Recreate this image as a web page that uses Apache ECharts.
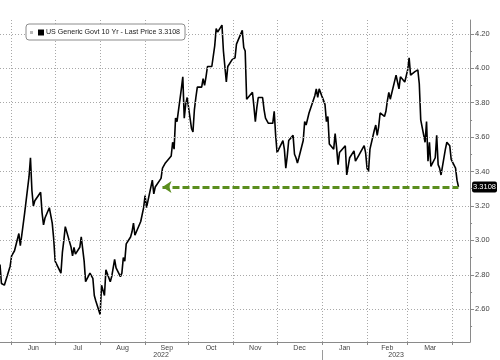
<!DOCTYPE html>
<html>
<head>
<meta charset="utf-8">
<script src="https://cdn.jsdelivr.net/npm/echarts@6/dist/echarts.min.js"></script>
<style>
html,body{margin:0;padding:0;background:#fff;}
#chart{width:500px;height:360px;}
</style>
</head>
<body>
<div id="chart"></div>
<script>
// ---- data ----
const seriesName = 'US Generic Govt 10 Yr';
const dates = [
'2022-05-24','2022-05-25','2022-05-26','2022-05-27','2022-05-31',
'2022-06-01','2022-06-02','2022-06-03','2022-06-06','2022-06-07','2022-06-08','2022-06-09','2022-06-10',
'2022-06-13','2022-06-14','2022-06-15','2022-06-16','2022-06-17','2022-06-21','2022-06-22','2022-06-23','2022-06-24',
'2022-06-27','2022-06-28','2022-06-29','2022-06-30','2022-07-01',
'2022-07-05','2022-07-06','2022-07-07','2022-07-08','2022-07-11','2022-07-12','2022-07-13','2022-07-14','2022-07-15',
'2022-07-18','2022-07-19','2022-07-20','2022-07-21','2022-07-22','2022-07-25','2022-07-26','2022-07-27','2022-07-28','2022-07-29',
'2022-08-01','2022-08-02','2022-08-03','2022-08-04','2022-08-05','2022-08-08','2022-08-09','2022-08-10','2022-08-11','2022-08-12',
'2022-08-15','2022-08-16','2022-08-17','2022-08-18','2022-08-19','2022-08-22','2022-08-23','2022-08-24','2022-08-25','2022-08-26',
'2022-08-29','2022-08-30','2022-08-31','2022-09-01','2022-09-02',
'2022-09-06','2022-09-07','2022-09-08','2022-09-09','2022-09-12','2022-09-13','2022-09-14','2022-09-15','2022-09-16',
'2022-09-19','2022-09-20','2022-09-21','2022-09-22','2022-09-23','2022-09-26','2022-09-27','2022-09-28','2022-09-29','2022-09-30',
'2022-10-03','2022-10-04','2022-10-05','2022-10-06','2022-10-07','2022-10-10','2022-10-11','2022-10-12','2022-10-13','2022-10-14',
'2022-10-17','2022-10-18','2022-10-19','2022-10-20','2022-10-21','2022-10-24','2022-10-25','2022-10-26','2022-10-27','2022-10-28',
'2022-10-31','2022-11-01','2022-11-02','2022-11-03','2022-11-04','2022-11-07','2022-11-08','2022-11-09','2022-11-10','2022-11-11',
'2022-11-14','2022-11-15','2022-11-16','2022-11-17','2022-11-18','2022-11-21','2022-11-22','2022-11-23','2022-11-25',
'2022-11-28','2022-11-29','2022-11-30','2022-12-01','2022-12-02','2022-12-05','2022-12-06','2022-12-07','2022-12-08','2022-12-09',
'2022-12-12','2022-12-13','2022-12-14','2022-12-15','2022-12-16','2022-12-19','2022-12-20','2022-12-21','2022-12-22','2022-12-23',
'2022-12-27','2022-12-28','2022-12-29','2022-12-30',
'2023-01-03','2023-01-04','2023-01-05','2023-01-06','2023-01-09','2023-01-10','2023-01-11','2023-01-12','2023-01-13',
'2023-01-17','2023-01-18','2023-01-19','2023-01-20','2023-01-23','2023-01-24','2023-01-25','2023-01-26','2023-01-27',
'2023-01-30','2023-01-31','2023-02-01','2023-02-02','2023-02-03','2023-02-06','2023-02-07','2023-02-08','2023-02-09','2023-02-10',
'2023-02-13','2023-02-14','2023-02-15','2023-02-16','2023-02-17','2023-02-21','2023-02-22','2023-02-23','2023-02-24',
'2023-02-27','2023-02-28','2023-03-01','2023-03-02','2023-03-03','2023-03-06','2023-03-07','2023-03-08','2023-03-09','2023-03-10',
'2023-03-13','2023-03-14','2023-03-15','2023-03-16','2023-03-17','2023-03-20','2023-03-21','2023-03-22','2023-03-23','2023-03-24',
'2023-03-27','2023-03-28','2023-03-29','2023-03-30','2023-03-31','2023-04-03','2023-04-04','2023-04-05'
];
const values = [
2.86,2.75,2.75,2.74,2.85,
2.91,2.91,2.94,3.04,2.97,3.03,3.04,3.16,
3.37,3.48,3.29,3.20,3.23,3.28,3.16,3.09,3.13,
3.19,3.20,3.10,3.01,2.88,
2.81,2.93,3.00,3.08,2.99,2.96,2.91,2.96,2.92,
2.96,3.02,3.03,2.88,2.76,2.81,2.80,2.78,2.68,2.65,
2.57,2.74,2.73,2.68,2.83,2.76,2.79,2.78,2.89,2.84,
2.79,2.81,2.90,2.88,2.98,3.02,3.05,3.10,3.03,3.04,
3.11,3.11,3.19,3.26,3.19,
3.35,3.27,3.31,3.32,3.36,3.42,3.41,3.45,3.45,
3.49,3.57,3.53,3.71,3.69,3.88,3.95,3.71,3.79,3.83,
3.65,3.63,3.76,3.83,3.89,3.89,3.94,3.90,3.95,4.01,
4.01,4.00,4.13,4.23,4.21,4.25,4.10,4.01,3.92,4.01,
4.05,4.04,4.06,4.14,4.16,4.22,4.12,4.10,3.82,3.82,
3.86,3.78,3.69,3.77,3.83,3.83,3.76,3.71,3.68,
3.68,3.75,3.61,3.51,3.50,3.58,3.53,3.42,3.49,3.58,
3.61,3.50,3.48,3.45,3.48,3.58,3.69,3.67,3.67,3.74,
3.84,3.88,3.83,3.88,
3.79,3.69,3.72,3.56,3.53,3.62,3.54,3.44,3.51,
3.55,3.38,3.39,3.48,3.52,3.46,3.45,3.49,3.50,
3.55,3.51,3.42,3.40,3.53,3.64,3.67,3.61,3.66,3.74,
3.72,3.75,3.81,3.86,3.82,3.96,3.92,3.88,3.95,
3.92,3.92,3.99,4.06,3.96,3.98,3.97,3.99,3.91,3.70,
3.57,3.69,3.46,3.57,3.43,3.48,3.61,3.44,3.42,3.38,
3.53,3.57,3.57,3.55,3.47,3.42,3.35,3.3108
];
const axisStart = '2022-05-24';
const axisEnd = '2023-04-13';
const monthStarts = ['2022-06-01','2022-07-01','2022-08-01','2022-09-01','2022-10-01','2022-11-01',
  '2022-12-01','2023-01-01','2023-02-01','2023-03-01','2023-04-01'];
const monthLabels = ['Jun','Jul','Aug','Sep','Oct','Nov','Dec','Jan','Feb','Mar'];
const yearBreak = '2023-01-01';
const yearLabels = ['2022','2023'];
const yMin = 2.41, yMax = 4.28;
const yTicks = [2.6,2.8,3.0,3.2,3.4,3.6,3.8,4.0,4.2];
const yMinorTicks = [2.5,2.7,2.9,3.1,3.3,3.5,3.7,3.9,4.1];
const arrowFrom = '2022-09-13';

// ---- build ----
function ts(s){const p=s.split('-').map(Number);return new Date(p[0],p[1]-1,p[2]).getTime();}
const tStart = ts(axisStart), tEnd = ts(axisEnd);
const seriesData = dates.map((d,i)=>[ts(d), values[i]]);
const lastT = ts(dates[dates.length-1]);
const lastV = values[values.length-1];
const lastTxt = lastV.toFixed(4);
const mStarts = monthStarts.map(ts);
const mMids = monthLabels.map((_,i)=>(mStarts[i]+mStarts[i+1])/2);
const tBreak = ts(yearBreak);
const yMids = [(tStart+tBreak)/2, (tBreak+tEnd)/2];
const FONT = 'Liberation Sans';
function nearestIdx(arr, v){let b=-1,bd=Infinity;arr.forEach((a,i)=>{const d=Math.abs(a-v);if(d<bd){bd=d;b=i;}});return bd<86400000?b:-1;}

const gridLineData = yTicks.map(v=>({yAxis:v})).concat(mStarts.map(t=>({xAxis:t})));

const chart = echarts.init(document.getElementById('chart'), null, {renderer:'canvas'});
chart.setOption({
  animation:false,
  backgroundColor:'#fff',
  grid:{left:0, right:27, top:20, bottom:18},
  legend:{
    left:26, top:24, z:10,
    padding:[5,5,4,4],
    backgroundColor:'#fff',
    borderColor:'#8c8c8c', borderWidth:1, borderRadius:3,
    itemWidth:3, itemHeight:3,
    data:[{name:seriesName, icon:'rect', itemStyle:{color:'#b8b8b8'}}],
    formatter:function(name){return '{k|}{t| '+name+' - Last Price '+lastTxt+'}';},
    textStyle:{
      fontFamily:FONT, fontSize:7.1, color:'#222',
      rich:{
        k:{width:6, height:6, backgroundColor:'#000'},
        t:{fontFamily:FONT, fontSize:7.1, color:'#222'}
      }
    },
    selectedMode:false
  },
  xAxis:[{
    type:'value', min:tStart, max:tEnd,
    axisLine:{show:true, lineStyle:{color:'#8a8a8a', width:1}},
    axisTick:{show:true, customValues:mStarts, length:3, lineStyle:{color:'#8a8a8a'}},
    splitLine:{show:false},
    axisLabel:{
      customValues:mMids, margin:3, hideOverlap:false,
      fontFamily:FONT, fontSize:7, color:'#444',
      formatter:function(v){const i=nearestIdx(mMids,v);return i>=0?monthLabels[i]:'';}
    }
  },{
    type:'value', min:tStart, max:tEnd, position:'bottom', offset:8,
    axisLine:{show:false},
    axisTick:{show:true, customValues:[tBreak], length:12, lineStyle:{color:'#9a9a9a'}},
    splitLine:{show:false},
    axisLabel:{
      customValues:yMids, margin:2,
      fontFamily:FONT, fontSize:7, color:'#444',
      formatter:function(v){const i=nearestIdx(yMids,v);return i>=0?yearLabels[i]:'';}
    }
  }],
  yAxis:[{
    type:'value', position:'right', min:yMin, max:yMax,
    axisLine:{show:true, lineStyle:{color:'#8a8a8a'}},
    axisTick:{show:true, customValues:yTicks, length:4, lineStyle:{color:'#8a8a8a'}},
    splitLine:{show:false},
    axisLabel:{
      customValues:yTicks, margin:5,
      fontFamily:FONT, fontSize:7.5, color:'#444',
      formatter:function(v){return (+v).toFixed(2);}
    }
  },{
    type:'value', position:'right', min:yMin, max:yMax,
    axisLine:{show:false},
    axisTick:{show:true, customValues:yMinorTicks, length:2, lineStyle:{color:'#8a8a8a'}},
    splitLine:{show:false},
    axisLabel:{show:false}
  },{
    type:'value', position:'right', min:yMin, max:yMax,
    axisLine:{show:false},
    axisTick:{show:false},
    splitLine:{show:false},
    axisLabel:{
      customValues:[lastV], margin:2,
      fontFamily:FONT, fontSize:7.5, color:'#fff',
      backgroundColor:'#000', borderRadius:2, padding:[2,1,1,1],
      formatter:function(){return lastTxt;}
    }
  }],
  series:[{
    name:'grid', type:'line', xAxisIndex:0, yAxisIndex:0, z:1,
    data:seriesData, showSymbol:false, symbol:'none', silent:true,
    lineStyle:{opacity:0}, itemStyle:{opacity:0},
    markLine:{
      silent:true, animation:false, symbol:['none','none'],
      label:{show:false},
      lineStyle:{color:'#a8a8a8', width:1, type:[1,2]},
      data:gridLineData
    }
  },{
    name:seriesName, type:'line', xAxisIndex:0, yAxisIndex:0, z:3,
    data:seriesData, showSymbol:false, symbol:'none',
    lineStyle:{color:'#000', width:1.6},
    itemStyle:{color:'#000'},
    markLine:{
      silent:true, animation:false,
      symbol:['arrow','none'], symbolSize:[9,9],
      label:{show:false},
      lineStyle:{color:'#5b8e1e', width:3, type:[7,3]},
      data:[[{coord:[ts(arrowFrom), lastV]},{coord:[lastT, lastV]}]]
    }
  }]
});
</script>
</body>
</html>
